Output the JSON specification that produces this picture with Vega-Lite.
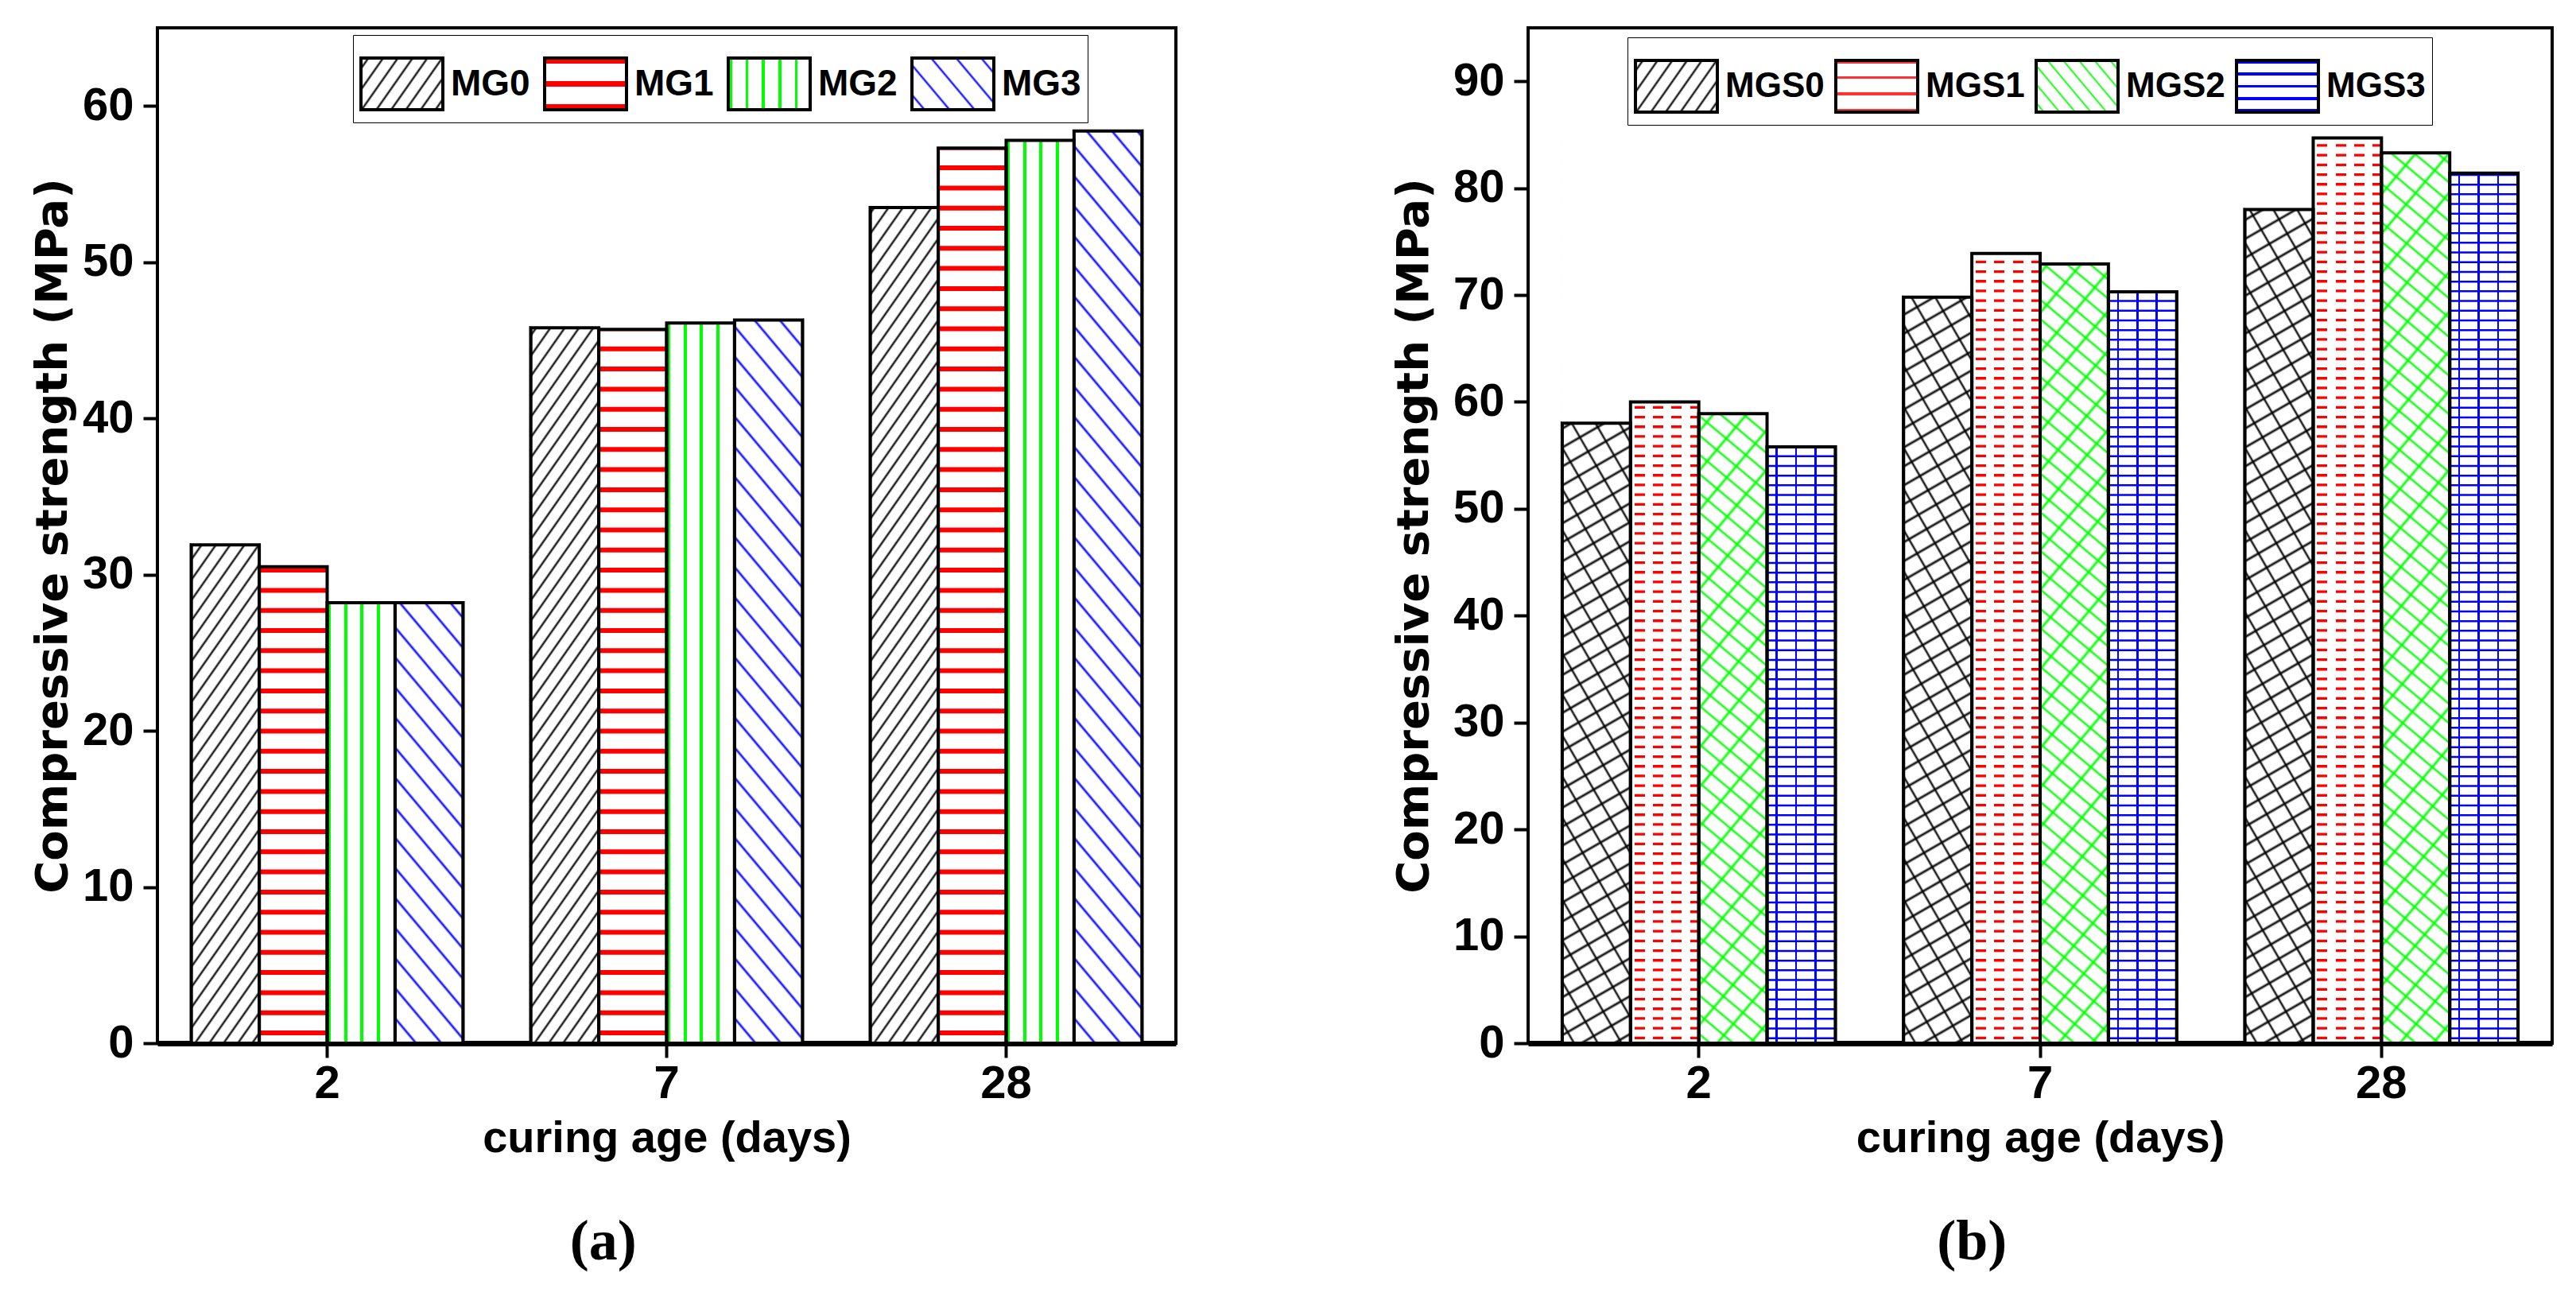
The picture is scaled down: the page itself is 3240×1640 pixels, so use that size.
{
"$schema":"https://vega.github.io/schema/vega-lite/v6.json",
"background":"white",
"padding":{"left":36,"top":33,"right":10,"bottom":10},
"spacing":267,
"resolve":{"scale":{"x":"independent","xOffset":"independent","y":"independent","fill":"independent"},"legend":{"fill":"independent"},"axis":{"x":"independent","y":"independent"}},
"datasets":{
"a":[{"age":"2","series":"MG0","value":31.9},{"age":"2","series":"MG1","value":30.5},{"age":"2","series":"MG2","value":28.2},{"age":"2","series":"MG3","value":28.2},{"age":"7","series":"MG0","value":45.8},{"age":"7","series":"MG1","value":45.7},{"age":"7","series":"MG2","value":46.1},{"age":"7","series":"MG3","value":46.3},{"age":"28","series":"MG0","value":53.5},{"age":"28","series":"MG1","value":57.3},{"age":"28","series":"MG2","value":57.8},{"age":"28","series":"MG3","value":58.4}],
"b":[{"age":"2","series":"MGS0","value":58.0},{"age":"2","series":"MGS1","value":60.0},{"age":"2","series":"MGS2","value":58.9},{"age":"2","series":"MGS3","value":55.8},{"age":"7","series":"MGS0","value":69.8},{"age":"7","series":"MGS1","value":73.9},{"age":"7","series":"MGS2","value":72.9},{"age":"7","series":"MGS3","value":70.3},{"age":"28","series":"MGS0","value":78.0},{"age":"28","series":"MGS1","value":84.7},{"age":"28","series":"MGS2","value":83.3},{"age":"28","series":"MGS3","value":81.4}]
},
"config":{
"view":{"stroke":"black","strokeWidth":4},
"axis":{"domainColor":"black","tickColor":"black","labelColor":"black","titleColor":"black","labelFont":"Liberation Sans","labelFontWeight":"bold","labelFontSize":58,"tickWidth":4,"tickSize":18,"grid":false,"zindex":1},
"axisX":{"domainWidth":7,"labelAngle":0,"labelPadding":4,"titleFont":"Liberation Sans","titleFontSize":56,"titleFontWeight":"bold","titlePadding":12},
"axisY":{"domainWidth":3,"labelPadding":12,"titleFont":"DejaVu Sans","titleFontSize":56,"titleFontWeight":"bold"},
"legend":{"symbolStrokeColor":"black","symbolStrokeWidth":4,"labelFont":"Liberation Sans","labelFontSize":46,"labelFontWeight":"bold","labelColor":"black","labelOffset":8,"columnPadding":10,"padding":8,"fillColor":"white","strokeColor":"black","labelLimit":0,"symbolOpacity":1},
"title":{"font":"Liberation Serif","fontSize":72,"fontWeight":"bold","color":"black"}
},
"hconcat":[
{
"width":1281,"height":1277,
"data":{"name":"a"},
"title":{"text":"(a)","orient":"bottom","anchor":"middle","frame":"bounds","offset":68},
"encoding":{
"x":{"field":"age","type":"nominal","sort":["2","7","28"],"scale":{"domain":["2","7","28"],"paddingInner":0.2,"paddingOuter":0.1},"axis":{"title":"curing age (days)","bandPosition":0.5}},
"xOffset":{"field":"series","type":"nominal","scale":{"domain":["MG0","MG1","MG2","MG3"],"paddingInner":0,"paddingOuter":0}}
},
"layer":[
{"mark":{"type":"bar","stroke":"black","strokeWidth":4},
"encoding":{
"y":{"field":"value","type":"quantitative","stack":null,"scale":{"domain":[0,65],"nice":false},"axis":{"title":"Compressive strength (MPa)","values":[0,10,20,30,40,50,60],"titlePadding":8}},
"fill":{"field":"series","type":"nominal","scale":{"domain":["MG0","MG1","MG2","MG3"],"range":[
{"expr":"{gradient:'linear',x1:0,y1:0,x2:1.2063,y2:0.533,stops:[{offset:0.0445,color:'#fff'},{offset:0.0625,color:'#000'},{offset:0.0805,color:'#fff'},{offset:0.1695,color:'#fff'},{offset:0.1875,color:'#000'},{offset:0.2055,color:'#fff'},{offset:0.2945,color:'#fff'},{offset:0.3125,color:'#000'},{offset:0.3305,color:'#fff'},{offset:0.4195,color:'#fff'},{offset:0.4375,color:'#000'},{offset:0.4555,color:'#fff'},{offset:0.5445,color:'#fff'},{offset:0.5625,color:'#000'},{offset:0.5805,color:'#fff'},{offset:0.6695,color:'#fff'},{offset:0.6875,color:'#000'},{offset:0.7055,color:'#fff'},{offset:0.7945,color:'#fff'},{offset:0.8125,color:'#000'},{offset:0.8305,color:'#fff'},{offset:0.9195,color:'#fff'},{offset:0.9375,color:'#000'},{offset:0.9555,color:'#fff'}]}"},
{"expr":"{gradient:'linear',x1:0,y1:0,x2:0,y2:1,stops:[{offset:0,color:'#f00'},{offset:0.1,color:'#f00'},{offset:0.1,color:'#fff'},{offset:0.45,color:'#fff'},{offset:0.45,color:'#f00'},{offset:0.55,color:'#f00'},{offset:0.55,color:'#fff'},{offset:0.9,color:'#fff'},{offset:0.9,color:'#f00'},{offset:1,color:'#f00'}]}"},
{"expr":"{gradient:'linear',x1:0,y1:0,x2:1,y2:0,stops:[{offset:0.0125,color:'#fff'},{offset:0.0125,color:'#0f0'},{offset:0.0475,color:'#0f0'},{offset:0.0475,color:'#fff'},{offset:0.2125,color:'#fff'},{offset:0.2125,color:'#0f0'},{offset:0.2475,color:'#0f0'},{offset:0.2475,color:'#fff'},{offset:0.4125,color:'#fff'},{offset:0.4125,color:'#0f0'},{offset:0.4475,color:'#0f0'},{offset:0.4475,color:'#fff'},{offset:0.6125,color:'#fff'},{offset:0.6125,color:'#0f0'},{offset:0.6475,color:'#0f0'},{offset:0.6475,color:'#fff'},{offset:0.8125,color:'#fff'},{offset:0.8125,color:'#0f0'},{offset:0.8475,color:'#0f0'},{offset:0.8475,color:'#fff'}]}"},
{"expr":"{gradient:'linear',x1:1,y1:0,x2:-0.1946,y2:0.6326,stops:[{offset:0.082,color:'#fff'},{offset:0.1,color:'#00f'},{offset:0.118,color:'#fff'},{offset:0.282,color:'#fff'},{offset:0.3,color:'#00f'},{offset:0.318,color:'#fff'},{offset:0.482,color:'#fff'},{offset:0.5,color:'#00f'},{offset:0.518,color:'#fff'},{offset:0.682,color:'#fff'},{offset:0.7,color:'#00f'},{offset:0.718,color:'#fff'},{offset:0.882,color:'#fff'},{offset:0.9,color:'#00f'},{offset:0.918,color:'#fff'}]}"}
]},"legend":{"orient":"none","legendX":246,"legendY":9,"direction":"horizontal","title":null,"symbolType":"M-1,-0.63H1V0.63H-1Z","symbolSize":10609}}
}},
{"mark":{"type":"bar"},
"encoding":{
"y":{"datum":59,"type":"quantitative","axis":{"title":"Compressive strength (MPa)"}},
"y2":{"datum":0},
"fill":{"condition":[
{"test":"datum.series==='MG0'","value":{"gradient":"linear","x1":0,"y1":0,"x2":0.1148,"y2":1.093,"stops":[{"offset":0.007,"color":"#fff"},{"offset":0.01,"color":"#000"},{"offset":0.013,"color":"#fff"},{"offset":0.027,"color":"#fff"},{"offset":0.03,"color":"#000"},{"offset":0.033,"color":"#fff"},{"offset":0.047,"color":"#fff"},{"offset":0.05,"color":"#000"},{"offset":0.053,"color":"#fff"},{"offset":0.067,"color":"#fff"},{"offset":0.07,"color":"#000"},{"offset":0.073,"color":"#fff"},{"offset":0.087,"color":"#fff"},{"offset":0.09,"color":"#000"},{"offset":0.093,"color":"#fff"},{"offset":0.107,"color":"#fff"},{"offset":0.11,"color":"#000"},{"offset":0.113,"color":"#fff"},{"offset":0.127,"color":"#fff"},{"offset":0.13,"color":"#000"},{"offset":0.133,"color":"#fff"},{"offset":0.147,"color":"#fff"},{"offset":0.15,"color":"#000"},{"offset":0.153,"color":"#fff"},{"offset":0.167,"color":"#fff"},{"offset":0.17,"color":"#000"},{"offset":0.173,"color":"#fff"},{"offset":0.187,"color":"#fff"},{"offset":0.19,"color":"#000"},{"offset":0.193,"color":"#fff"},{"offset":0.207,"color":"#fff"},{"offset":0.21,"color":"#000"},{"offset":0.213,"color":"#fff"},{"offset":0.227,"color":"#fff"},{"offset":0.23,"color":"#000"},{"offset":0.233,"color":"#fff"},{"offset":0.247,"color":"#fff"},{"offset":0.25,"color":"#000"},{"offset":0.253,"color":"#fff"},{"offset":0.267,"color":"#fff"},{"offset":0.27,"color":"#000"},{"offset":0.273,"color":"#fff"},{"offset":0.287,"color":"#fff"},{"offset":0.29,"color":"#000"},{"offset":0.293,"color":"#fff"},{"offset":0.307,"color":"#fff"},{"offset":0.31,"color":"#000"},{"offset":0.313,"color":"#fff"},{"offset":0.327,"color":"#fff"},{"offset":0.33,"color":"#000"},{"offset":0.333,"color":"#fff"},{"offset":0.347,"color":"#fff"},{"offset":0.35,"color":"#000"},{"offset":0.353,"color":"#fff"},{"offset":0.367,"color":"#fff"},{"offset":0.37,"color":"#000"},{"offset":0.373,"color":"#fff"},{"offset":0.387,"color":"#fff"},{"offset":0.39,"color":"#000"},{"offset":0.393,"color":"#fff"},{"offset":0.407,"color":"#fff"},{"offset":0.41,"color":"#000"},{"offset":0.413,"color":"#fff"},{"offset":0.427,"color":"#fff"},{"offset":0.43,"color":"#000"},{"offset":0.433,"color":"#fff"},{"offset":0.447,"color":"#fff"},{"offset":0.45,"color":"#000"},{"offset":0.453,"color":"#fff"},{"offset":0.467,"color":"#fff"},{"offset":0.47,"color":"#000"},{"offset":0.473,"color":"#fff"},{"offset":0.487,"color":"#fff"},{"offset":0.49,"color":"#000"},{"offset":0.493,"color":"#fff"},{"offset":0.507,"color":"#fff"},{"offset":0.51,"color":"#000"},{"offset":0.513,"color":"#fff"},{"offset":0.527,"color":"#fff"},{"offset":0.53,"color":"#000"},{"offset":0.533,"color":"#fff"},{"offset":0.547,"color":"#fff"},{"offset":0.55,"color":"#000"},{"offset":0.553,"color":"#fff"},{"offset":0.567,"color":"#fff"},{"offset":0.57,"color":"#000"},{"offset":0.573,"color":"#fff"},{"offset":0.587,"color":"#fff"},{"offset":0.59,"color":"#000"},{"offset":0.593,"color":"#fff"},{"offset":0.607,"color":"#fff"},{"offset":0.61,"color":"#000"},{"offset":0.613,"color":"#fff"},{"offset":0.627,"color":"#fff"},{"offset":0.63,"color":"#000"},{"offset":0.633,"color":"#fff"},{"offset":0.647,"color":"#fff"},{"offset":0.65,"color":"#000"},{"offset":0.653,"color":"#fff"},{"offset":0.667,"color":"#fff"},{"offset":0.67,"color":"#000"},{"offset":0.673,"color":"#fff"},{"offset":0.687,"color":"#fff"},{"offset":0.69,"color":"#000"},{"offset":0.693,"color":"#fff"},{"offset":0.707,"color":"#fff"},{"offset":0.71,"color":"#000"},{"offset":0.713,"color":"#fff"},{"offset":0.727,"color":"#fff"},{"offset":0.73,"color":"#000"},{"offset":0.733,"color":"#fff"},{"offset":0.747,"color":"#fff"},{"offset":0.75,"color":"#000"},{"offset":0.753,"color":"#fff"},{"offset":0.767,"color":"#fff"},{"offset":0.77,"color":"#000"},{"offset":0.773,"color":"#fff"},{"offset":0.787,"color":"#fff"},{"offset":0.79,"color":"#000"},{"offset":0.793,"color":"#fff"},{"offset":0.807,"color":"#fff"},{"offset":0.81,"color":"#000"},{"offset":0.813,"color":"#fff"},{"offset":0.827,"color":"#fff"},{"offset":0.83,"color":"#000"},{"offset":0.833,"color":"#fff"},{"offset":0.847,"color":"#fff"},{"offset":0.85,"color":"#000"},{"offset":0.853,"color":"#fff"},{"offset":0.867,"color":"#fff"},{"offset":0.87,"color":"#000"},{"offset":0.873,"color":"#fff"},{"offset":0.887,"color":"#fff"},{"offset":0.89,"color":"#000"},{"offset":0.893,"color":"#fff"},{"offset":0.907,"color":"#fff"},{"offset":0.91,"color":"#000"},{"offset":0.913,"color":"#fff"},{"offset":0.927,"color":"#fff"},{"offset":0.93,"color":"#000"},{"offset":0.933,"color":"#fff"},{"offset":0.947,"color":"#fff"},{"offset":0.95,"color":"#000"},{"offset":0.953,"color":"#fff"},{"offset":0.967,"color":"#fff"},{"offset":0.97,"color":"#000"},{"offset":0.973,"color":"#fff"},{"offset":0.987,"color":"#fff"},{"offset":0.99,"color":"#000"},{"offset":0.993,"color":"#fff"}]}},
{"test":"datum.series==='MG2'","value":{"gradient":"linear","x1":0,"y1":0,"x2":1,"y2":0,"stops":[{"offset":0.0117,"color":"#fff"},{"offset":0.0117,"color":"#0f0"},{"offset":0.0585,"color":"#0f0"},{"offset":0.0585,"color":"#fff"},{"offset":0.2518,"color":"#fff"},{"offset":0.2518,"color":"#0f0"},{"offset":0.2986,"color":"#0f0"},{"offset":0.2986,"color":"#fff"},{"offset":0.4918,"color":"#fff"},{"offset":0.4918,"color":"#0f0"},{"offset":0.5386,"color":"#0f0"},{"offset":0.5386,"color":"#fff"},{"offset":0.7318,"color":"#fff"},{"offset":0.7318,"color":"#0f0"},{"offset":0.7787,"color":"#0f0"},{"offset":0.7787,"color":"#fff"}]}},
{"test":"datum.series==='MG3'","value":{"gradient":"linear","x1":1,"y1":0,"x2":0.9054,"y2":1.0794,"stops":[{"offset":0.012,"color":"#fff"},{"offset":0.015,"color":"#00f"},{"offset":0.018,"color":"#fff"},{"offset":0.042,"color":"#fff"},{"offset":0.045,"color":"#00f"},{"offset":0.048,"color":"#fff"},{"offset":0.072,"color":"#fff"},{"offset":0.075,"color":"#00f"},{"offset":0.078,"color":"#fff"},{"offset":0.102,"color":"#fff"},{"offset":0.105,"color":"#00f"},{"offset":0.108,"color":"#fff"},{"offset":0.132,"color":"#fff"},{"offset":0.135,"color":"#00f"},{"offset":0.138,"color":"#fff"},{"offset":0.162,"color":"#fff"},{"offset":0.165,"color":"#00f"},{"offset":0.168,"color":"#fff"},{"offset":0.192,"color":"#fff"},{"offset":0.195,"color":"#00f"},{"offset":0.198,"color":"#fff"},{"offset":0.222,"color":"#fff"},{"offset":0.225,"color":"#00f"},{"offset":0.228,"color":"#fff"},{"offset":0.252,"color":"#fff"},{"offset":0.255,"color":"#00f"},{"offset":0.258,"color":"#fff"},{"offset":0.282,"color":"#fff"},{"offset":0.285,"color":"#00f"},{"offset":0.288,"color":"#fff"},{"offset":0.312,"color":"#fff"},{"offset":0.315,"color":"#00f"},{"offset":0.318,"color":"#fff"},{"offset":0.342,"color":"#fff"},{"offset":0.345,"color":"#00f"},{"offset":0.348,"color":"#fff"},{"offset":0.372,"color":"#fff"},{"offset":0.375,"color":"#00f"},{"offset":0.378,"color":"#fff"},{"offset":0.402,"color":"#fff"},{"offset":0.405,"color":"#00f"},{"offset":0.408,"color":"#fff"},{"offset":0.432,"color":"#fff"},{"offset":0.435,"color":"#00f"},{"offset":0.438,"color":"#fff"},{"offset":0.462,"color":"#fff"},{"offset":0.465,"color":"#00f"},{"offset":0.468,"color":"#fff"},{"offset":0.492,"color":"#fff"},{"offset":0.495,"color":"#00f"},{"offset":0.498,"color":"#fff"},{"offset":0.522,"color":"#fff"},{"offset":0.525,"color":"#00f"},{"offset":0.528,"color":"#fff"},{"offset":0.552,"color":"#fff"},{"offset":0.555,"color":"#00f"},{"offset":0.558,"color":"#fff"},{"offset":0.582,"color":"#fff"},{"offset":0.585,"color":"#00f"},{"offset":0.588,"color":"#fff"},{"offset":0.612,"color":"#fff"},{"offset":0.615,"color":"#00f"},{"offset":0.618,"color":"#fff"},{"offset":0.642,"color":"#fff"},{"offset":0.645,"color":"#00f"},{"offset":0.648,"color":"#fff"},{"offset":0.672,"color":"#fff"},{"offset":0.675,"color":"#00f"},{"offset":0.678,"color":"#fff"},{"offset":0.702,"color":"#fff"},{"offset":0.705,"color":"#00f"},{"offset":0.708,"color":"#fff"},{"offset":0.732,"color":"#fff"},{"offset":0.735,"color":"#00f"},{"offset":0.738,"color":"#fff"},{"offset":0.762,"color":"#fff"},{"offset":0.765,"color":"#00f"},{"offset":0.768,"color":"#fff"},{"offset":0.792,"color":"#fff"},{"offset":0.795,"color":"#00f"},{"offset":0.798,"color":"#fff"},{"offset":0.822,"color":"#fff"},{"offset":0.825,"color":"#00f"},{"offset":0.828,"color":"#fff"},{"offset":0.852,"color":"#fff"},{"offset":0.855,"color":"#00f"},{"offset":0.858,"color":"#fff"},{"offset":0.882,"color":"#fff"},{"offset":0.885,"color":"#00f"},{"offset":0.888,"color":"#fff"},{"offset":0.912,"color":"#fff"},{"offset":0.915,"color":"#00f"},{"offset":0.918,"color":"#fff"},{"offset":0.942,"color":"#fff"},{"offset":0.945,"color":"#00f"},{"offset":0.948,"color":"#fff"},{"offset":0.972,"color":"#fff"},{"offset":0.975,"color":"#00f"},{"offset":0.978,"color":"#fff"}]}}
],"value":"#fff"}
}},
{"transform":[{"filter":"datum.series==='MG1'"}],
"mark":{"type":"rule","stroke":"#f00","strokeWidth":85.4,"strokeDash":[6,19.3],"strokeDashOffset":-10},
"encoding":{"y":{"datum":0,"type":"quantitative","axis":{"title":"Compressive strength (MPa)"}},"y2":{"datum":59}}},
{"mark":{"type":"bar","fill":"#fff","stroke":"#fff","strokeWidth":1.5},
"encoding":{"y":{"field":"value","type":"quantitative","axis":{"title":"Compressive strength (MPa)"}},"y2":{"datum":59}}},
{"mark":{"type":"bar","fill":"transparent","stroke":"black","strokeWidth":4},
"encoding":{"y":{"field":"value","type":"quantitative","axis":{"title":"Compressive strength (MPa)"}}}}
]
},
{
"width":1288,"height":1277,
"data":{"name":"b"},
"title":{"text":"(b)","orient":"bottom","anchor":"middle","frame":"bounds","offset":68},
"encoding":{
"x":{"field":"age","type":"nominal","sort":["2","7","28"],"scale":{"domain":["2","7","28"],"paddingInner":0.2,"paddingOuter":0.1},"axis":{"title":"curing age (days)","bandPosition":0.5}},
"xOffset":{"field":"series","type":"nominal","scale":{"domain":["MGS0","MGS1","MGS2","MGS3"],"paddingInner":0,"paddingOuter":0}}
},
"layer":[
{"mark":{"type":"bar","stroke":"black","strokeWidth":4},
"encoding":{
"y":{"field":"value","type":"quantitative","stack":null,"scale":{"domain":[0,95],"nice":false},"axis":{"title":"Compressive strength (MPa)","values":[0,10,20,30,40,50,60,70,80,90],"titlePadding":20}},
"fill":{"field":"series","type":"nominal","scale":{"domain":["MGS0","MGS1","MGS2","MGS3"],"range":[
{"expr":"{gradient:'linear',x1:0,y1:0,x2:1.2063,y2:0.533,stops:[{offset:0.0445,color:'#fff'},{offset:0.0625,color:'#000'},{offset:0.0805,color:'#fff'},{offset:0.1695,color:'#fff'},{offset:0.1875,color:'#000'},{offset:0.2055,color:'#fff'},{offset:0.2945,color:'#fff'},{offset:0.3125,color:'#000'},{offset:0.3305,color:'#fff'},{offset:0.4195,color:'#fff'},{offset:0.4375,color:'#000'},{offset:0.4555,color:'#fff'},{offset:0.5445,color:'#fff'},{offset:0.5625,color:'#000'},{offset:0.5805,color:'#fff'},{offset:0.6695,color:'#fff'},{offset:0.6875,color:'#000'},{offset:0.7055,color:'#fff'},{offset:0.7945,color:'#fff'},{offset:0.8125,color:'#000'},{offset:0.8305,color:'#fff'},{offset:0.9195,color:'#fff'},{offset:0.9375,color:'#000'},{offset:0.9555,color:'#fff'}]}"},
{"expr":"{gradient:'linear',x1:0,y1:0,x2:0,y2:1,stops:[{offset:0,color:'#f33'},{offset:0.06,color:'#f33'},{offset:0.06,color:'#fff'},{offset:0.3,color:'#fff'},{offset:0.3,color:'#f33'},{offset:0.36,color:'#f33'},{offset:0.36,color:'#fff'},{offset:0.62,color:'#fff'},{offset:0.62,color:'#f33'},{offset:0.68,color:'#f33'},{offset:0.68,color:'#fff'},{offset:0.94,color:'#fff'},{offset:0.94,color:'#f33'},{offset:1,color:'#f33'}]}"},
{"expr":"{gradient:'linear',x1:1,y1:0,x2:-0.1946,y2:0.6326,stops:[{offset:0.0475,color:'#fff'},{offset:0.0625,color:'#0f0'},{offset:0.0775,color:'#fff'},{offset:0.1725,color:'#fff'},{offset:0.1875,color:'#0f0'},{offset:0.2025,color:'#fff'},{offset:0.2975,color:'#fff'},{offset:0.3125,color:'#0f0'},{offset:0.3275,color:'#fff'},{offset:0.4225,color:'#fff'},{offset:0.4375,color:'#0f0'},{offset:0.4525,color:'#fff'},{offset:0.5475,color:'#fff'},{offset:0.5625,color:'#0f0'},{offset:0.5775,color:'#fff'},{offset:0.6725,color:'#fff'},{offset:0.6875,color:'#0f0'},{offset:0.7025,color:'#fff'},{offset:0.7975,color:'#fff'},{offset:0.8125,color:'#0f0'},{offset:0.8275,color:'#fff'},{offset:0.9225,color:'#fff'},{offset:0.9375,color:'#0f0'},{offset:0.9525,color:'#fff'}]}"},
{"expr":"{gradient:'linear',x1:0,y1:0,x2:0,y2:1,stops:[{offset:0,color:'#00f'},{offset:0.06,color:'#00f'},{offset:0.06,color:'#fff'},{offset:0.235,color:'#fff'},{offset:0.235,color:'#00f'},{offset:0.295,color:'#00f'},{offset:0.295,color:'#fff'},{offset:0.47,color:'#fff'},{offset:0.47,color:'#00f'},{offset:0.53,color:'#00f'},{offset:0.53,color:'#fff'},{offset:0.705,color:'#fff'},{offset:0.705,color:'#00f'},{offset:0.765,color:'#00f'},{offset:0.765,color:'#fff'},{offset:0.94,color:'#fff'},{offset:0.94,color:'#00f'},{offset:1,color:'#00f'}]}"}
]},"legend":{"orient":"none","legendX":125,"legendY":12,"direction":"horizontal","title":null,"symbolType":"M-1,-0.63H1V0.63H-1Z","symbolSize":10609,"labelFontSize":44,"columnPadding":6}}
}},
{"mark":{"type":"bar"},
"encoding":{
"y":{"datum":85,"type":"quantitative","axis":{"title":"Compressive strength (MPa)"}},
"y2":{"datum":0},
"fill":{"condition":[
{"test":"datum.series==='MGS0'","value":{"gradient":"linear","x1":0,"y1":0,"x2":0.0451,"y2":1.0414,"stops":[{"offset":0.0075,"color":"#fff"},{"offset":0.01,"color":"#000"},{"offset":0.0125,"color":"#fff"},{"offset":0.0275,"color":"#fff"},{"offset":0.03,"color":"#000"},{"offset":0.0325,"color":"#fff"},{"offset":0.0475,"color":"#fff"},{"offset":0.05,"color":"#000"},{"offset":0.0525,"color":"#fff"},{"offset":0.0675,"color":"#fff"},{"offset":0.07,"color":"#000"},{"offset":0.0725,"color":"#fff"},{"offset":0.0875,"color":"#fff"},{"offset":0.09,"color":"#000"},{"offset":0.0925,"color":"#fff"},{"offset":0.1075,"color":"#fff"},{"offset":0.11,"color":"#000"},{"offset":0.1125,"color":"#fff"},{"offset":0.1275,"color":"#fff"},{"offset":0.13,"color":"#000"},{"offset":0.1325,"color":"#fff"},{"offset":0.1475,"color":"#fff"},{"offset":0.15,"color":"#000"},{"offset":0.1525,"color":"#fff"},{"offset":0.1675,"color":"#fff"},{"offset":0.17,"color":"#000"},{"offset":0.1725,"color":"#fff"},{"offset":0.1875,"color":"#fff"},{"offset":0.19,"color":"#000"},{"offset":0.1925,"color":"#fff"},{"offset":0.2075,"color":"#fff"},{"offset":0.21,"color":"#000"},{"offset":0.2125,"color":"#fff"},{"offset":0.2275,"color":"#fff"},{"offset":0.23,"color":"#000"},{"offset":0.2325,"color":"#fff"},{"offset":0.2475,"color":"#fff"},{"offset":0.25,"color":"#000"},{"offset":0.2525,"color":"#fff"},{"offset":0.2675,"color":"#fff"},{"offset":0.27,"color":"#000"},{"offset":0.2725,"color":"#fff"},{"offset":0.2875,"color":"#fff"},{"offset":0.29,"color":"#000"},{"offset":0.2925,"color":"#fff"},{"offset":0.3075,"color":"#fff"},{"offset":0.31,"color":"#000"},{"offset":0.3125,"color":"#fff"},{"offset":0.3275,"color":"#fff"},{"offset":0.33,"color":"#000"},{"offset":0.3325,"color":"#fff"},{"offset":0.3475,"color":"#fff"},{"offset":0.35,"color":"#000"},{"offset":0.3525,"color":"#fff"},{"offset":0.3675,"color":"#fff"},{"offset":0.37,"color":"#000"},{"offset":0.3725,"color":"#fff"},{"offset":0.3875,"color":"#fff"},{"offset":0.39,"color":"#000"},{"offset":0.3925,"color":"#fff"},{"offset":0.4075,"color":"#fff"},{"offset":0.41,"color":"#000"},{"offset":0.4125,"color":"#fff"},{"offset":0.4275,"color":"#fff"},{"offset":0.43,"color":"#000"},{"offset":0.4325,"color":"#fff"},{"offset":0.4475,"color":"#fff"},{"offset":0.45,"color":"#000"},{"offset":0.4525,"color":"#fff"},{"offset":0.4675,"color":"#fff"},{"offset":0.47,"color":"#000"},{"offset":0.4725,"color":"#fff"},{"offset":0.4875,"color":"#fff"},{"offset":0.49,"color":"#000"},{"offset":0.4925,"color":"#fff"},{"offset":0.5075,"color":"#fff"},{"offset":0.51,"color":"#000"},{"offset":0.5125,"color":"#fff"},{"offset":0.5275,"color":"#fff"},{"offset":0.53,"color":"#000"},{"offset":0.5325,"color":"#fff"},{"offset":0.5475,"color":"#fff"},{"offset":0.55,"color":"#000"},{"offset":0.5525,"color":"#fff"},{"offset":0.5675,"color":"#fff"},{"offset":0.57,"color":"#000"},{"offset":0.5725,"color":"#fff"},{"offset":0.5875,"color":"#fff"},{"offset":0.59,"color":"#000"},{"offset":0.5925,"color":"#fff"},{"offset":0.6075,"color":"#fff"},{"offset":0.61,"color":"#000"},{"offset":0.6125,"color":"#fff"},{"offset":0.6275,"color":"#fff"},{"offset":0.63,"color":"#000"},{"offset":0.6325,"color":"#fff"},{"offset":0.6475,"color":"#fff"},{"offset":0.65,"color":"#000"},{"offset":0.6525,"color":"#fff"},{"offset":0.6675,"color":"#fff"},{"offset":0.67,"color":"#000"},{"offset":0.6725,"color":"#fff"},{"offset":0.6875,"color":"#fff"},{"offset":0.69,"color":"#000"},{"offset":0.6925,"color":"#fff"},{"offset":0.7075,"color":"#fff"},{"offset":0.71,"color":"#000"},{"offset":0.7125,"color":"#fff"},{"offset":0.7275,"color":"#fff"},{"offset":0.73,"color":"#000"},{"offset":0.7325,"color":"#fff"},{"offset":0.7475,"color":"#fff"},{"offset":0.75,"color":"#000"},{"offset":0.7525,"color":"#fff"},{"offset":0.7675,"color":"#fff"},{"offset":0.77,"color":"#000"},{"offset":0.7725,"color":"#fff"},{"offset":0.7875,"color":"#fff"},{"offset":0.79,"color":"#000"},{"offset":0.7925,"color":"#fff"},{"offset":0.8075,"color":"#fff"},{"offset":0.81,"color":"#000"},{"offset":0.8125,"color":"#fff"},{"offset":0.8275,"color":"#fff"},{"offset":0.83,"color":"#000"},{"offset":0.8325,"color":"#fff"},{"offset":0.8475,"color":"#fff"},{"offset":0.85,"color":"#000"},{"offset":0.8525,"color":"#fff"},{"offset":0.8675,"color":"#fff"},{"offset":0.87,"color":"#000"},{"offset":0.8725,"color":"#fff"},{"offset":0.8875,"color":"#fff"},{"offset":0.89,"color":"#000"},{"offset":0.8925,"color":"#fff"},{"offset":0.9075,"color":"#fff"},{"offset":0.91,"color":"#000"},{"offset":0.9125,"color":"#fff"},{"offset":0.9275,"color":"#fff"},{"offset":0.93,"color":"#000"},{"offset":0.9325,"color":"#fff"},{"offset":0.9475,"color":"#fff"},{"offset":0.95,"color":"#000"},{"offset":0.9525,"color":"#fff"},{"offset":0.9675,"color":"#fff"},{"offset":0.97,"color":"#000"},{"offset":0.9725,"color":"#fff"},{"offset":0.9875,"color":"#fff"},{"offset":0.99,"color":"#000"},{"offset":0.9925,"color":"#fff"}]}},
{"test":"datum.series==='MGS2'","value":{"gradient":"linear","x1":1,"y1":0,"x2":0.9333,"y2":1.0588,"stops":[{"offset":0.0075,"color":"#fff"},{"offset":0.01,"color":"#0f0"},{"offset":0.0125,"color":"#fff"},{"offset":0.0275,"color":"#fff"},{"offset":0.03,"color":"#0f0"},{"offset":0.0325,"color":"#fff"},{"offset":0.0475,"color":"#fff"},{"offset":0.05,"color":"#0f0"},{"offset":0.0525,"color":"#fff"},{"offset":0.0675,"color":"#fff"},{"offset":0.07,"color":"#0f0"},{"offset":0.0725,"color":"#fff"},{"offset":0.0875,"color":"#fff"},{"offset":0.09,"color":"#0f0"},{"offset":0.0925,"color":"#fff"},{"offset":0.1075,"color":"#fff"},{"offset":0.11,"color":"#0f0"},{"offset":0.1125,"color":"#fff"},{"offset":0.1275,"color":"#fff"},{"offset":0.13,"color":"#0f0"},{"offset":0.1325,"color":"#fff"},{"offset":0.1475,"color":"#fff"},{"offset":0.15,"color":"#0f0"},{"offset":0.1525,"color":"#fff"},{"offset":0.1675,"color":"#fff"},{"offset":0.17,"color":"#0f0"},{"offset":0.1725,"color":"#fff"},{"offset":0.1875,"color":"#fff"},{"offset":0.19,"color":"#0f0"},{"offset":0.1925,"color":"#fff"},{"offset":0.2075,"color":"#fff"},{"offset":0.21,"color":"#0f0"},{"offset":0.2125,"color":"#fff"},{"offset":0.2275,"color":"#fff"},{"offset":0.23,"color":"#0f0"},{"offset":0.2325,"color":"#fff"},{"offset":0.2475,"color":"#fff"},{"offset":0.25,"color":"#0f0"},{"offset":0.2525,"color":"#fff"},{"offset":0.2675,"color":"#fff"},{"offset":0.27,"color":"#0f0"},{"offset":0.2725,"color":"#fff"},{"offset":0.2875,"color":"#fff"},{"offset":0.29,"color":"#0f0"},{"offset":0.2925,"color":"#fff"},{"offset":0.3075,"color":"#fff"},{"offset":0.31,"color":"#0f0"},{"offset":0.3125,"color":"#fff"},{"offset":0.3275,"color":"#fff"},{"offset":0.33,"color":"#0f0"},{"offset":0.3325,"color":"#fff"},{"offset":0.3475,"color":"#fff"},{"offset":0.35,"color":"#0f0"},{"offset":0.3525,"color":"#fff"},{"offset":0.3675,"color":"#fff"},{"offset":0.37,"color":"#0f0"},{"offset":0.3725,"color":"#fff"},{"offset":0.3875,"color":"#fff"},{"offset":0.39,"color":"#0f0"},{"offset":0.3925,"color":"#fff"},{"offset":0.4075,"color":"#fff"},{"offset":0.41,"color":"#0f0"},{"offset":0.4125,"color":"#fff"},{"offset":0.4275,"color":"#fff"},{"offset":0.43,"color":"#0f0"},{"offset":0.4325,"color":"#fff"},{"offset":0.4475,"color":"#fff"},{"offset":0.45,"color":"#0f0"},{"offset":0.4525,"color":"#fff"},{"offset":0.4675,"color":"#fff"},{"offset":0.47,"color":"#0f0"},{"offset":0.4725,"color":"#fff"},{"offset":0.4875,"color":"#fff"},{"offset":0.49,"color":"#0f0"},{"offset":0.4925,"color":"#fff"},{"offset":0.5075,"color":"#fff"},{"offset":0.51,"color":"#0f0"},{"offset":0.5125,"color":"#fff"},{"offset":0.5275,"color":"#fff"},{"offset":0.53,"color":"#0f0"},{"offset":0.5325,"color":"#fff"},{"offset":0.5475,"color":"#fff"},{"offset":0.55,"color":"#0f0"},{"offset":0.5525,"color":"#fff"},{"offset":0.5675,"color":"#fff"},{"offset":0.57,"color":"#0f0"},{"offset":0.5725,"color":"#fff"},{"offset":0.5875,"color":"#fff"},{"offset":0.59,"color":"#0f0"},{"offset":0.5925,"color":"#fff"},{"offset":0.6075,"color":"#fff"},{"offset":0.61,"color":"#0f0"},{"offset":0.6125,"color":"#fff"},{"offset":0.6275,"color":"#fff"},{"offset":0.63,"color":"#0f0"},{"offset":0.6325,"color":"#fff"},{"offset":0.6475,"color":"#fff"},{"offset":0.65,"color":"#0f0"},{"offset":0.6525,"color":"#fff"},{"offset":0.6675,"color":"#fff"},{"offset":0.67,"color":"#0f0"},{"offset":0.6725,"color":"#fff"},{"offset":0.6875,"color":"#fff"},{"offset":0.69,"color":"#0f0"},{"offset":0.6925,"color":"#fff"},{"offset":0.7075,"color":"#fff"},{"offset":0.71,"color":"#0f0"},{"offset":0.7125,"color":"#fff"},{"offset":0.7275,"color":"#fff"},{"offset":0.73,"color":"#0f0"},{"offset":0.7325,"color":"#fff"},{"offset":0.7475,"color":"#fff"},{"offset":0.75,"color":"#0f0"},{"offset":0.7525,"color":"#fff"},{"offset":0.7675,"color":"#fff"},{"offset":0.77,"color":"#0f0"},{"offset":0.7725,"color":"#fff"},{"offset":0.7875,"color":"#fff"},{"offset":0.79,"color":"#0f0"},{"offset":0.7925,"color":"#fff"},{"offset":0.8075,"color":"#fff"},{"offset":0.81,"color":"#0f0"},{"offset":0.8125,"color":"#fff"},{"offset":0.8275,"color":"#fff"},{"offset":0.83,"color":"#0f0"},{"offset":0.8325,"color":"#fff"},{"offset":0.8475,"color":"#fff"},{"offset":0.85,"color":"#0f0"},{"offset":0.8525,"color":"#fff"},{"offset":0.8675,"color":"#fff"},{"offset":0.87,"color":"#0f0"},{"offset":0.8725,"color":"#fff"},{"offset":0.8875,"color":"#fff"},{"offset":0.89,"color":"#0f0"},{"offset":0.8925,"color":"#fff"},{"offset":0.9075,"color":"#fff"},{"offset":0.91,"color":"#0f0"},{"offset":0.9125,"color":"#fff"},{"offset":0.9275,"color":"#fff"},{"offset":0.93,"color":"#0f0"},{"offset":0.9325,"color":"#fff"},{"offset":0.9475,"color":"#fff"},{"offset":0.95,"color":"#0f0"},{"offset":0.9525,"color":"#fff"},{"offset":0.9675,"color":"#fff"},{"offset":0.97,"color":"#0f0"},{"offset":0.9725,"color":"#fff"},{"offset":0.9875,"color":"#fff"},{"offset":0.99,"color":"#0f0"},{"offset":0.9925,"color":"#fff"}]}}
],"value":"#fff"}
}},
{"transform":[{"filter":"datum.series==='MGS1'"}],
"mark":{"type":"rule","stroke":"#f00","strokeWidth":85.87,"strokeDash":[3.3,8.9],"strokeDashOffset":-5},
"encoding":{"y":{"datum":0,"type":"quantitative","axis":{"title":"Compressive strength (MPa)"}},"y2":{"datum":85}}},
{"transform":[{"filter":"datum.series==='MGS3'"}],
"mark":{"type":"rule","stroke":"#00f","strokeWidth":85.87,"strokeDash":[2.5,9.7],"strokeDashOffset":-5},
"encoding":{"y":{"datum":0,"type":"quantitative","axis":{"title":"Compressive strength (MPa)"}},"y2":{"datum":85}}},
{"mark":{"type":"bar"},
"encoding":{
"y":{"datum":85,"type":"quantitative","axis":{"title":"Compressive strength (MPa)"}},
"y2":{"datum":0},
"fill":{"condition":[
{"test":"datum.series==='MGS0'","value":{"gradient":"linear","x1":1,"y1":0,"x2":0.8556,"y2":1.1112,"stops":[{"offset":0.0165,"color":"rgba(0,0,0,0)"},{"offset":0.02,"color":"#000"},{"offset":0.0235,"color":"rgba(0,0,0,0)"},{"offset":0.0565,"color":"rgba(0,0,0,0)"},{"offset":0.06,"color":"#000"},{"offset":0.0635,"color":"rgba(0,0,0,0)"},{"offset":0.0965,"color":"rgba(0,0,0,0)"},{"offset":0.1,"color":"#000"},{"offset":0.1035,"color":"rgba(0,0,0,0)"},{"offset":0.1365,"color":"rgba(0,0,0,0)"},{"offset":0.14,"color":"#000"},{"offset":0.1435,"color":"rgba(0,0,0,0)"},{"offset":0.1765,"color":"rgba(0,0,0,0)"},{"offset":0.18,"color":"#000"},{"offset":0.1835,"color":"rgba(0,0,0,0)"},{"offset":0.2165,"color":"rgba(0,0,0,0)"},{"offset":0.22,"color":"#000"},{"offset":0.2235,"color":"rgba(0,0,0,0)"},{"offset":0.2565,"color":"rgba(0,0,0,0)"},{"offset":0.26,"color":"#000"},{"offset":0.2635,"color":"rgba(0,0,0,0)"},{"offset":0.2965,"color":"rgba(0,0,0,0)"},{"offset":0.3,"color":"#000"},{"offset":0.3035,"color":"rgba(0,0,0,0)"},{"offset":0.3365,"color":"rgba(0,0,0,0)"},{"offset":0.34,"color":"#000"},{"offset":0.3435,"color":"rgba(0,0,0,0)"},{"offset":0.3765,"color":"rgba(0,0,0,0)"},{"offset":0.38,"color":"#000"},{"offset":0.3835,"color":"rgba(0,0,0,0)"},{"offset":0.4165,"color":"rgba(0,0,0,0)"},{"offset":0.42,"color":"#000"},{"offset":0.4235,"color":"rgba(0,0,0,0)"},{"offset":0.4565,"color":"rgba(0,0,0,0)"},{"offset":0.46,"color":"#000"},{"offset":0.4635,"color":"rgba(0,0,0,0)"},{"offset":0.4965,"color":"rgba(0,0,0,0)"},{"offset":0.5,"color":"#000"},{"offset":0.5035,"color":"rgba(0,0,0,0)"},{"offset":0.5365,"color":"rgba(0,0,0,0)"},{"offset":0.54,"color":"#000"},{"offset":0.5435,"color":"rgba(0,0,0,0)"},{"offset":0.5765,"color":"rgba(0,0,0,0)"},{"offset":0.58,"color":"#000"},{"offset":0.5835,"color":"rgba(0,0,0,0)"},{"offset":0.6165,"color":"rgba(0,0,0,0)"},{"offset":0.62,"color":"#000"},{"offset":0.6235,"color":"rgba(0,0,0,0)"},{"offset":0.6565,"color":"rgba(0,0,0,0)"},{"offset":0.66,"color":"#000"},{"offset":0.6635,"color":"rgba(0,0,0,0)"},{"offset":0.6965,"color":"rgba(0,0,0,0)"},{"offset":0.7,"color":"#000"},{"offset":0.7035,"color":"rgba(0,0,0,0)"},{"offset":0.7365,"color":"rgba(0,0,0,0)"},{"offset":0.74,"color":"#000"},{"offset":0.7435,"color":"rgba(0,0,0,0)"},{"offset":0.7765,"color":"rgba(0,0,0,0)"},{"offset":0.78,"color":"#000"},{"offset":0.7835,"color":"rgba(0,0,0,0)"},{"offset":0.8165,"color":"rgba(0,0,0,0)"},{"offset":0.82,"color":"#000"},{"offset":0.8235,"color":"rgba(0,0,0,0)"},{"offset":0.8565,"color":"rgba(0,0,0,0)"},{"offset":0.86,"color":"#000"},{"offset":0.8635,"color":"rgba(0,0,0,0)"},{"offset":0.8965,"color":"rgba(0,0,0,0)"},{"offset":0.9,"color":"#000"},{"offset":0.9035,"color":"rgba(0,0,0,0)"},{"offset":0.9365,"color":"rgba(0,0,0,0)"},{"offset":0.94,"color":"#000"},{"offset":0.9435,"color":"rgba(0,0,0,0)"},{"offset":0.9765,"color":"rgba(0,0,0,0)"},{"offset":0.98,"color":"#000"},{"offset":0.9835,"color":"rgba(0,0,0,0)"}]}},
{"test":"datum.series==='MGS1'","value":{"gradient":"linear","x1":0,"y1":0,"x2":1,"y2":0,"stops":[{"offset":0,"color":"#fff"},{"offset":0.0582,"color":"#fff"},{"offset":0.0582,"color":"rgba(255,255,255,0)"},{"offset":0.2096,"color":"rgba(255,255,255,0)"},{"offset":0.2096,"color":"#fff"},{"offset":0.3296,"color":"#fff"},{"offset":0.3296,"color":"rgba(255,255,255,0)"},{"offset":0.481,"color":"rgba(255,255,255,0)"},{"offset":0.481,"color":"#fff"},{"offset":0.6009,"color":"#fff"},{"offset":0.6009,"color":"rgba(255,255,255,0)"},{"offset":0.7523,"color":"rgba(255,255,255,0)"},{"offset":0.7523,"color":"#fff"},{"offset":0.8722,"color":"#fff"},{"offset":0.8722,"color":"rgba(255,255,255,0)"},{"offset":1,"color":"rgba(255,255,255,0)"}]}},
{"test":"datum.series==='MGS2'","value":{"gradient":"linear","x1":0,"y1":0,"x2":0.0966,"y2":1.0808,"stops":[{"offset":0.0165,"color":"rgba(0,255,0,0)"},{"offset":0.02,"color":"#0f0"},{"offset":0.0235,"color":"rgba(0,255,0,0)"},{"offset":0.0565,"color":"rgba(0,255,0,0)"},{"offset":0.06,"color":"#0f0"},{"offset":0.0635,"color":"rgba(0,255,0,0)"},{"offset":0.0965,"color":"rgba(0,255,0,0)"},{"offset":0.1,"color":"#0f0"},{"offset":0.1035,"color":"rgba(0,255,0,0)"},{"offset":0.1365,"color":"rgba(0,255,0,0)"},{"offset":0.14,"color":"#0f0"},{"offset":0.1435,"color":"rgba(0,255,0,0)"},{"offset":0.1765,"color":"rgba(0,255,0,0)"},{"offset":0.18,"color":"#0f0"},{"offset":0.1835,"color":"rgba(0,255,0,0)"},{"offset":0.2165,"color":"rgba(0,255,0,0)"},{"offset":0.22,"color":"#0f0"},{"offset":0.2235,"color":"rgba(0,255,0,0)"},{"offset":0.2565,"color":"rgba(0,255,0,0)"},{"offset":0.26,"color":"#0f0"},{"offset":0.2635,"color":"rgba(0,255,0,0)"},{"offset":0.2965,"color":"rgba(0,255,0,0)"},{"offset":0.3,"color":"#0f0"},{"offset":0.3035,"color":"rgba(0,255,0,0)"},{"offset":0.3365,"color":"rgba(0,255,0,0)"},{"offset":0.34,"color":"#0f0"},{"offset":0.3435,"color":"rgba(0,255,0,0)"},{"offset":0.3765,"color":"rgba(0,255,0,0)"},{"offset":0.38,"color":"#0f0"},{"offset":0.3835,"color":"rgba(0,255,0,0)"},{"offset":0.4165,"color":"rgba(0,255,0,0)"},{"offset":0.42,"color":"#0f0"},{"offset":0.4235,"color":"rgba(0,255,0,0)"},{"offset":0.4565,"color":"rgba(0,255,0,0)"},{"offset":0.46,"color":"#0f0"},{"offset":0.4635,"color":"rgba(0,255,0,0)"},{"offset":0.4965,"color":"rgba(0,255,0,0)"},{"offset":0.5,"color":"#0f0"},{"offset":0.5035,"color":"rgba(0,255,0,0)"},{"offset":0.5365,"color":"rgba(0,255,0,0)"},{"offset":0.54,"color":"#0f0"},{"offset":0.5435,"color":"rgba(0,255,0,0)"},{"offset":0.5765,"color":"rgba(0,255,0,0)"},{"offset":0.58,"color":"#0f0"},{"offset":0.5835,"color":"rgba(0,255,0,0)"},{"offset":0.6165,"color":"rgba(0,255,0,0)"},{"offset":0.62,"color":"#0f0"},{"offset":0.6235,"color":"rgba(0,255,0,0)"},{"offset":0.6565,"color":"rgba(0,255,0,0)"},{"offset":0.66,"color":"#0f0"},{"offset":0.6635,"color":"rgba(0,255,0,0)"},{"offset":0.6965,"color":"rgba(0,255,0,0)"},{"offset":0.7,"color":"#0f0"},{"offset":0.7035,"color":"rgba(0,255,0,0)"},{"offset":0.7365,"color":"rgba(0,255,0,0)"},{"offset":0.74,"color":"#0f0"},{"offset":0.7435,"color":"rgba(0,255,0,0)"},{"offset":0.7765,"color":"rgba(0,255,0,0)"},{"offset":0.78,"color":"#0f0"},{"offset":0.7835,"color":"rgba(0,255,0,0)"},{"offset":0.8165,"color":"rgba(0,255,0,0)"},{"offset":0.82,"color":"#0f0"},{"offset":0.8235,"color":"rgba(0,255,0,0)"},{"offset":0.8565,"color":"rgba(0,255,0,0)"},{"offset":0.86,"color":"#0f0"},{"offset":0.8635,"color":"rgba(0,255,0,0)"},{"offset":0.8965,"color":"rgba(0,255,0,0)"},{"offset":0.9,"color":"#0f0"},{"offset":0.9035,"color":"rgba(0,255,0,0)"},{"offset":0.9365,"color":"rgba(0,255,0,0)"},{"offset":0.94,"color":"#0f0"},{"offset":0.9435,"color":"rgba(0,255,0,0)"},{"offset":0.9765,"color":"rgba(0,255,0,0)"},{"offset":0.98,"color":"#0f0"},{"offset":0.9835,"color":"rgba(0,255,0,0)"}]}},
{"test":"datum.series==='MGS3'","value":{"gradient":"linear","x1":0,"y1":0,"x2":1,"y2":0,"stops":[{"offset":0.1251,"color":"rgba(0,0,255,0)"},{"offset":0.1251,"color":"#00f"},{"offset":0.1543,"color":"#00f"},{"offset":0.1543,"color":"rgba(0,0,255,0)"},{"offset":0.4093,"color":"rgba(0,0,255,0)"},{"offset":0.4093,"color":"#00f"},{"offset":0.4385,"color":"#00f"},{"offset":0.4385,"color":"rgba(0,0,255,0)"},{"offset":0.6935,"color":"rgba(0,0,255,0)"},{"offset":0.6935,"color":"#00f"},{"offset":0.7227,"color":"#00f"},{"offset":0.7227,"color":"rgba(0,0,255,0)"}]}}
],"value":"transparent"}
}},
{"mark":{"type":"bar","fill":"#fff","stroke":"#fff","strokeWidth":1.5},
"encoding":{"y":{"field":"value","type":"quantitative","axis":{"title":"Compressive strength (MPa)"}},"y2":{"datum":85}}},
{"mark":{"type":"bar","fill":"transparent","stroke":"black","strokeWidth":4},
"encoding":{"y":{"field":"value","type":"quantitative","axis":{"title":"Compressive strength (MPa)"}}}}
]
}
]
}
